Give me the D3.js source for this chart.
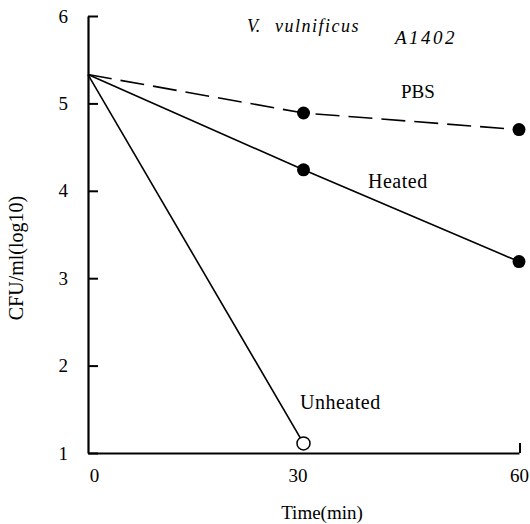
<!DOCTYPE html>
<html>
<head>
<meta charset="utf-8">
<script src="https://cdn.jsdelivr.net/npm/d3@7"></script>
<style>
  body { margin: 0; background: #fff; }
  svg text { font-family: "Liberation Serif", "DejaVu Serif", serif; fill: #000; }
</style>
</head>
<body>
<svg id="chart" width="530" height="524"></svg>
<script>
// values (log10 CFU/ml)
const times = [0, 30, 60]
const pbs = [5.33, 4.89, 4.70]
const heated = [5.33, 4.24, 3.19]
const unheatedTimes = [0, 30]
const unheated = [5.33, 1.11]
const yTicks = [1, 2, 3, 4, 5, 6]
const xTicks = [0, 30, 60]

const svg = d3.select('#chart')

const x = d3.scaleLinear().domain([0, 60]).range([88, 519])
const y = d3.scaleLinear().domain([1, 6]).range([453, 16])

// y axis, ticks pointing inward
const yAxis = svg.append('g')
  .attr('transform', 'translate(' + x(0) + ',0)')
  .call(d3.axisLeft(y).tickValues(yTicks).tickSizeInner(-10).tickSizeOuter(0).tickPadding(20).tickFormat(d3.format('d')))
yAxis.select('.domain').attr('stroke-width', 2.2)
yAxis.selectAll('.tick line').attr('stroke-width', 2)
yAxis.selectAll('.tick text').style('font-size', '19px').style('font-family', '"Liberation Serif", serif')

// x axis, only labels and an end tick
const xAxis = svg.append('g')
  .attr('transform', 'translate(0,' + y(1) + ')')
  .call(d3.axisBottom(x).tickValues(xTicks).tickSize(0).tickPadding(16).tickFormat(d3.format('d')))
xAxis.select('.domain').attr('stroke-width', 2.2)
xAxis.selectAll('.tick text').style('font-size', '19px').style('font-family', '"Liberation Serif", serif')
xAxis.selectAll('.tick').filter(d => d === 0).select('text').attr('dx', 6)
xAxis.selectAll('.tick').filter(d => d === 30).select('text').attr('dx', -6)
xAxis.append('line')
  .attr('x1', x(60) + 1).attr('x2', x(60) + 1)
  .attr('y1', 0).attr('y2', -10)
  .attr('stroke', '#000').attr('stroke-width', 2)

const line = d3.line().x(d => x(d[0])).y(d => y(d[1]))

function series (ts, vs) { return ts.map((t, i) => [t, vs[i]]) }

svg.append('path')
  .attr('d', line(series(times, pbs)))
  .attr('fill', 'none').attr('stroke', '#000').attr('stroke-width', 1.6)
  .attr('stroke-dasharray', '24,9')

svg.append('path')
  .attr('d', line(series(times, heated)))
  .attr('fill', 'none').attr('stroke', '#000').attr('stroke-width', 1.6)

svg.append('path')
  .attr('d', line(series(unheatedTimes, unheated)))
  .attr('fill', 'none').attr('stroke', '#000').attr('stroke-width', 1.6)

// filled markers at 30 and 60 min
svg.selectAll('circle.pbs')
  .data(series(times, pbs).slice(1))
  .join('circle')
  .attr('class', 'pbs')
  .attr('cx', d => x(d[0])).attr('cy', d => y(d[1])).attr('r', 6.5)
  .attr('fill', '#000')

svg.selectAll('circle.heated')
  .data(series(times, heated).slice(1))
  .join('circle')
  .attr('class', 'heated')
  .attr('cx', d => x(d[0])).attr('cy', d => y(d[1])).attr('r', 6.5)
  .attr('fill', '#000')

svg.selectAll('circle.unheated')
  .data(series(unheatedTimes, unheated).slice(1))
  .join('circle')
  .attr('class', 'unheated')
  .attr('cx', d => x(d[0])).attr('cy', d => y(d[1])).attr('r', 6.5)
  .attr('fill', '#fff').attr('stroke', '#000').attr('stroke-width', 1.5)

// series labels
svg.append('text').attr('x', 401).attr('y', 98).style('font-size', '19px').text('PBS')
svg.append('text').attr('x', 368).attr('y', 188).style('font-size', '20px').style('letter-spacing', '0.5px').text('Heated')
svg.append('text').attr('x', 300).attr('y', 409).style('font-size', '20px').style('letter-spacing', '0.5px').text('Unheated')

// strain title
svg.append('text').attr('x', 247).attr('y', 32).style('font-size', '18px').style('font-style', 'italic').text('V.')
svg.append('text').attr('x', 275).attr('y', 32).style('font-size', '18px').style('font-style', 'italic')
  .style('letter-spacing', '1.5px').text('vulnificus')
svg.append('text').attr('x', 395).attr('y', 44).style('font-size', '19px').style('font-style', 'italic')
  .style('letter-spacing', '2.5px').text('A1402')

// axis titles
svg.append('text')
  .attr('transform', 'translate(23,258) rotate(-90)')
  .attr('text-anchor', 'middle')
  .style('font-size', '20px')
  .text('CFU/ml(log10)')

svg.append('text')
  .attr('x', 322).attr('y', 519)
  .attr('text-anchor', 'middle')
  .style('font-size', '19px')
  .text('Time(min)')
</script>
</body>
</html>
